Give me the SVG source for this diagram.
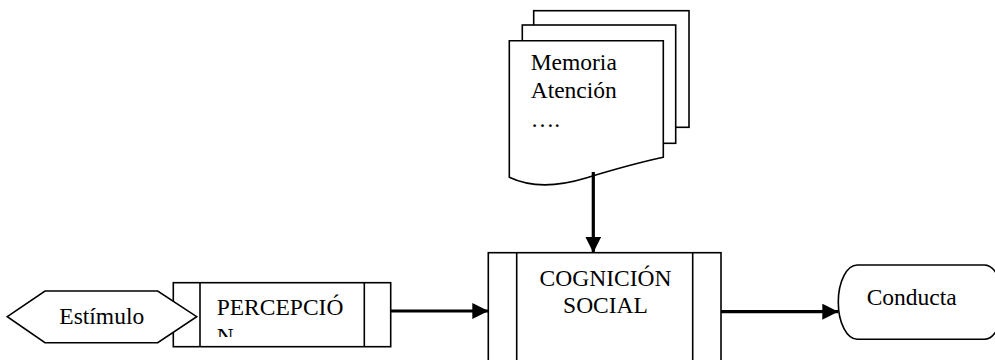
<svg xmlns="http://www.w3.org/2000/svg" width="995" height="360" viewBox="0 0 995 360">
<style>
.shape{fill:#fff;stroke:#000;stroke-width:1.6}
.thin{fill:none;stroke:#000;stroke-width:1.6}
.conn{fill:none;stroke:#000;stroke-width:3.2}
</style>
<defs>
<marker id="arrow" viewBox="0 0 16 16" refX="16" refY="8" markerWidth="16" markerHeight="16" markerUnits="userSpaceOnUse" orient="auto">
<path d="M0,0 L16,8 L0,16 Z" fill="#000"/>
</marker>
<clipPath id="clipPerc"><rect x="200" y="283" width="164" height="54"/></clipPath>
</defs>
<rect width="995" height="360" fill="#fff"/>

<g id="documento">
<rect class="shape" x="533.7" y="10.7" width="155.3" height="116.6"/>
<rect class="shape" x="522.3" y="25" width="153.4" height="118.3"/>
<path class="shape" d="M509.3,40.7 H663.3 V157.3 Q632,164 586,178 Q540,192 509.3,177.3 Z"/>
<text font-family="Liberation Serif" font-size="23.5" x="530.7" y="70">Memoria</text>
<text font-family="Liberation Serif" font-size="23.5" x="530.7" y="97.7">Atención</text>
<text font-family="Liberation Serif" font-size="23.5" x="530.7" y="126.7">….</text>
</g>

<g id="percepcion">
<rect class="shape" x="173.3" y="282.7" width="217.4" height="64"/>
<line class="thin" x1="200" y1="282.7" x2="200" y2="346.7"/>
<line class="thin" x1="364.3" y1="282.7" x2="364.3" y2="346.7"/>
<g clip-path="url(#clipPerc)">
<text font-family="Liberation Serif" font-size="23.5" x="216.7" y="315">PERCEPCIÓ</text>
<text font-family="Liberation Serif" font-size="23.5" x="216.7" y="344">N</text>
</g>
</g>

<g id="estimulo">
<path class="shape" d="M7.3,316.7 L45,291 L157.7,291 L196.7,316.7 L157.7,342.7 L45,342.7 Z"/>
<text font-family="Liberation Serif" font-size="23.5" x="59.3" y="324">Estímulo</text>
</g>

<g id="cognicion">
<rect class="shape" x="488.3" y="252.7" width="232.7" height="120"/>
<line class="thin" x1="516.7" y1="252.7" x2="516.7" y2="372.7"/>
<line class="thin" x1="692.7" y1="252.7" x2="692.7" y2="372.7"/>
<text font-family="Liberation Serif" font-size="23.5" x="605.5" y="286" text-anchor="middle">COGNICIÓN</text>
<text font-family="Liberation Serif" font-size="23.5" x="605.5" y="313.3" text-anchor="middle">SOCIAL</text>
</g>

<g id="conducta">
<rect class="shape" x="838.3" y="265" width="165" height="74.3" rx="19" ry="37"/>
<text font-family="Liberation Serif" font-size="23.5" x="866.7" y="305">Conducta</text>
</g>

<g id="connectors">
<line class="conn" x1="593.3" y1="172" x2="593.3" y2="252.7" marker-end="url(#arrow)"/>
<line class="conn" x1="390.7" y1="311" x2="488.3" y2="311" marker-end="url(#arrow)"/>
<line class="conn" x1="721" y1="311.7" x2="838.3" y2="311.7" marker-end="url(#arrow)"/>
</g>
</svg>
